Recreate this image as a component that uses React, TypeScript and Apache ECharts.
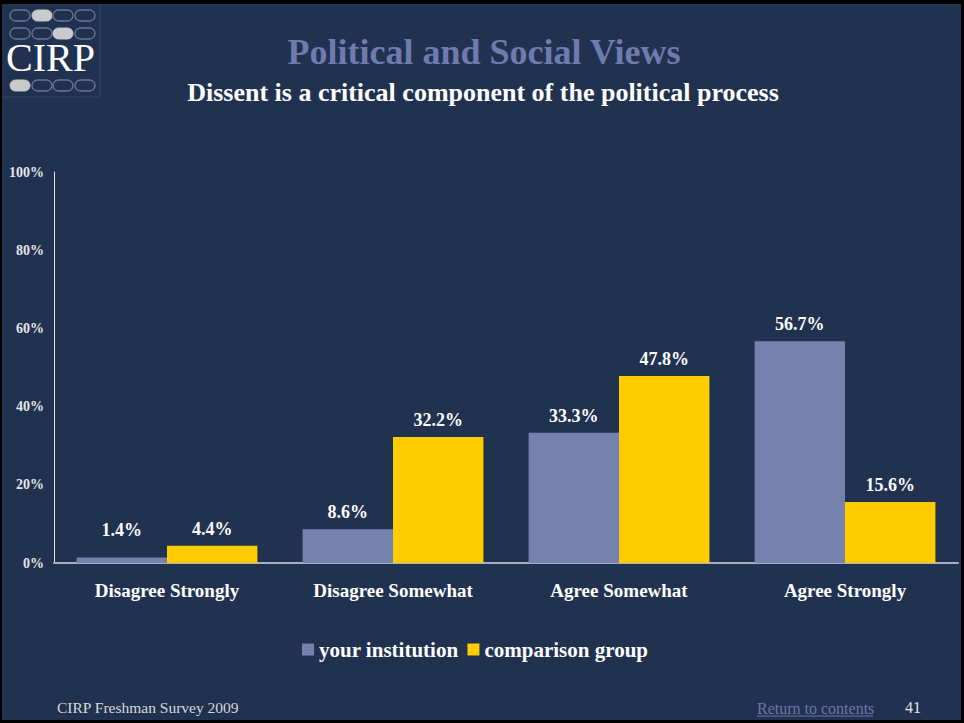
import React, { useEffect, useRef } from "react";
import * as echarts from "echarts";

const categories = ["Disagree Strongly", "Disagree Somewhat", "Agree Somewhat", "Agree Strongly"];
const yourInstitution = [1.4, 8.6, 33.3, 56.7];
const comparisonGroup = [4.4, 32.2, 47.8, 15.6];
const seriesNames = ["your institution", "comparison group"];
const titleText = "Political and Social Views";
const subtitleText = "Dissent is a critical component of the political process";
const footerLeft = "CIRP Freshman Survey 2009";
const footerLink = "Return to contents";
const pageNumber = "41";

const BG = "#213150";
const PURPLE = "#7682AE";
const YELLOW = "#FFCC00";
const SERIF = "'Liberation Serif', 'DejaVu Serif', serif";

function pill(x: number, y: number, filled: boolean) {
  return {
    type: "rect",
    shape: { x, y, width: 20, height: 11, r: 5.5 },
    style: filled
      ? { fill: "#C9CACC", stroke: "#C9CACC", lineWidth: 1 }
      : { fill: "transparent", stroke: "#6C7891", lineWidth: 1.3 },
    silent: true,
  };
}

export default function App() {
  const ref = useRef<HTMLDivElement>(null);
  useEffect(() => {
    document.body.style.margin = "0";
    if (!ref.current) return;
    const chart = echarts.init(ref.current, undefined, { renderer: "svg" });
    const cols = [10, 32, 53, 75];
    const pills: any[] = [];
    cols.forEach((cx, i) => pills.push(pill(cx, 10, i === 1)));
    cols.forEach((cx, i) => pills.push(pill(cx, 28, i === 2)));
    cols.forEach((cx, i) => pills.push(pill(cx, 80, i === 0)));
    const labelStyle = {
      show: true,
      position: "top",
      distance: 8,
      color: "#FFFFFF",
      fontFamily: SERIF,
      fontWeight: "bold",
      fontSize: 18,
      formatter: (p: any) => p.value.toFixed(1) + "%",
    };
    chart.setOption({
      animation: false,
      backgroundColor: BG,
      grid: { left: 54, right: 6, top: 172, bottom: 160, containLabel: false },
      legend: {
        left: 297,
        top: 634,
        itemWidth: 12,
        itemHeight: 12,
        itemGap: 9,
        icon: "rect",
        textStyle: { color: "#FFFFFF", fontFamily: SERIF, fontWeight: "bold", fontSize: 21, padding: [0, 0, 0, 0] },
        data: seriesNames,
      },
      xAxis: {
        type: "category",
        data: categories,
        axisLine: { lineStyle: { color: "#A9AEC0", width: 2 } },
        axisTick: { show: false },
        axisLabel: { color: "#FFFFFF", fontFamily: SERIF, fontWeight: "bold", fontSize: 19, margin: 18 },
      },
      yAxis: {
        type: "value",
        min: 0,
        max: 100,
        interval: 20,
        axisLine: { show: true, lineStyle: { color: "#E6E6E6", width: 1 } },
        axisTick: { show: false },
        splitLine: { show: false },
        axisLabel: {
          formatter: "{value}%",
          color: "#E6E6E6",
          fontFamily: SERIF,
          fontWeight: "bold",
          fontSize: 14,
          margin: 10,
        },
      },
      series: [
        {
          name: seriesNames[0],
          type: "bar",
          barGap: "0%",
          barCategoryGap: "20%",
          itemStyle: { color: PURPLE },
          label: labelStyle,
          data: yourInstitution.map((v, i) => (i === 0 ? { value: v, label: { distance: 19 } } : v)),
        },
        {
          name: seriesNames[1],
          type: "bar",
          barGap: "0%",
          barCategoryGap: "20%",
          itemStyle: { color: YELLOW },
          label: labelStyle,
          data: comparisonGroup,
        },
      ],
      graphic: [
        { type: "rect", shape: { x: 0, y: 0, width: 100, height: 97 }, style: { fill: "transparent", stroke: "#34456A", lineWidth: 1 }, silent: true },
        ...pills,
        {
          type: "text",
          x: 6,
          y: 57,
          style: { text: "CIRP", fill: "#FFFFFF", font: `40px ${SERIF}`, verticalAlign: "middle" },
          silent: true,
        },
        {
          type: "text",
          x: 484,
          y: 52,
          style: {
            text: titleText,
            fill: "#6E7BAE",
            font: `bold 36px ${SERIF}`,
            align: "center",
            verticalAlign: "middle",
          },
        },
        {
          type: "text",
          x: 483,
          y: 92,
          style: {
            text: subtitleText,
            fill: "#FFFFFF",
            font: `bold 26px ${SERIF}`,
            align: "center",
            verticalAlign: "middle",
          },
        },
        {
          type: "text",
          x: 57,
          y: 707,
          style: { text: footerLeft, fill: "#D8D8D8", font: `15.5px ${SERIF}`, verticalAlign: "middle" },
        },
        {
          type: "text",
          x: 757,
          y: 708,
          style: { text: footerLink, fill: "#6C79A9", font: `16px ${SERIF}`, verticalAlign: "middle" },
        },
        { type: "line", shape: { x1: 757, y1: 716, x2: 873, y2: 716 }, style: { stroke: "#6C79A9", lineWidth: 1 } },
        {
          type: "text",
          x: 905,
          y: 707,
          style: { text: pageNumber, fill: "#E6E6E6", font: `16px ${SERIF}`, verticalAlign: "middle" },
        },
        { type: "rect", shape: { x: 0, y: 0, width: 964, height: 4 }, style: { fill: "#000" } },
        { type: "rect", shape: { x: 0, y: 720, width: 964, height: 3 }, style: { fill: "#000" } },
        { type: "rect", shape: { x: 0, y: 0, width: 2, height: 723 }, style: { fill: "#000" } },
        { type: "rect", shape: { x: 961, y: 0, width: 3, height: 723 }, style: { fill: "#000" } },
      ],
    });
    return () => chart.dispose();
  }, []);
  return <div ref={ref} style={{ width: 964, height: 723 }} />;
}
